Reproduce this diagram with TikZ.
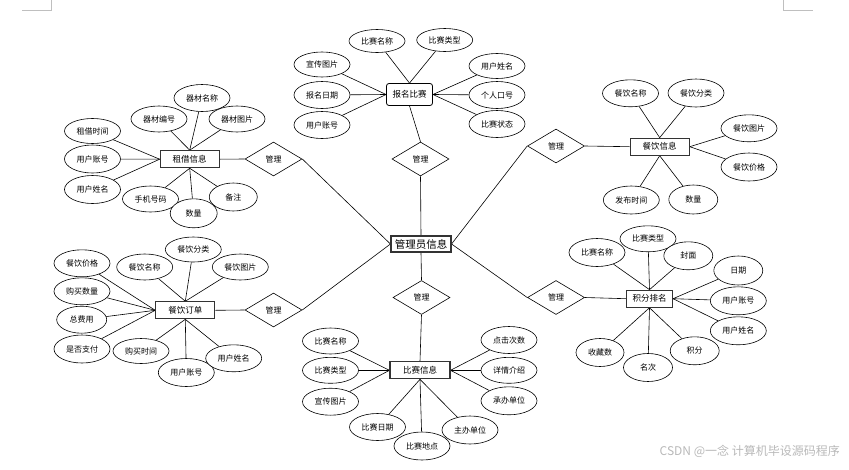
\documentclass[tikz,border=0pt]{standalone}
\usepackage{fontspec}
\setmainfont{Noto Sans CJK SC}
\usetikzlibrary{shapes.geometric,backgrounds}
\begin{document}
\begin{tikzpicture}[x=1pt,y=-1pt,
  attr/.style={ellipse,draw,fill=white,line width=0.6pt,minimum width=56pt,minimum height=27pt,inner sep=0pt,font=\fontsize{8}{9}\selectfont},
  ent/.style={rectangle,draw=black!80,fill=white,line width=1.1pt,minimum width=59pt,minimum height=17pt,inner sep=0pt,font=\fontsize{8.5}{10}\selectfont},
  rel/.style={diamond,draw,fill=white,line width=0.6pt,minimum width=57pt,minimum height=34pt,aspect=1.68,inner sep=0pt,font=\fontsize{8}{9}\selectfont},
  link/.style={line width=0.6pt},
  pagemark/.style={draw=black!25,line width=0.6pt}]
\useasboundingbox (0,0) rectangle (849,469);

% page corner marks
\draw[pagemark] (22,10) -- (51.7,10) -- (51.7,0);
\draw[pagemark] (812.7,10) -- (783.3,10) -- (783.3,0);

% entities
\node[ent,font=\fontsize{10.5}{12}\selectfont,minimum width=60pt,minimum height=16pt] (admin) at (421,244) {管理员信息};
\node[ent,rounded corners=2.5pt,line width=0.8pt,draw=black,minimum width=46pt,minimum height=22pt] (bm) at (409.5,94.5) {报名比赛};
\node[ent] (zj) at (189.7,159.2) {租借信息};
\node[ent] (dd) at (185.3,310.3) {餐饮订单};
\node[ent,minimum width=60pt] (bs) at (420,370.3) {比赛信息};
\node[ent] (cy) at (659.7,146.7) {餐饮信息};
\node[ent,minimum width=46pt] (jf) at (649.5,298.7) {积分排名};

% relations
\node[rel] (d1) at (420.5,159) {管理};
\node[rel] (d2) at (421.5,297.5) {管理};
\node[rel] (d3) at (273.5,159) {管理};
\node[rel] (d4) at (273.5,310) {管理};
\node[rel] (d5) at (556,146) {管理};
\node[rel] (d6) at (556,297.5) {管理};

% 报名比赛
\node[attr,minimum height=23pt] (a1) at (377,41) {比赛名称};
\node[attr,minimum height=23pt] (a2) at (444.7,40) {比赛类型};
\node[attr,minimum height=25pt] (a3) at (322,64.5) {宣传图片};
\node[attr] (a4) at (322,95) {报名日期};
\node[attr] (a5) at (322,125) {用户账号};
\node[attr,minimum height=25pt] (a6) at (497,66) {用户姓名};
\node[attr] (a7) at (497,95) {个人口号};
\node[attr] (a8) at (497,124) {比赛状态};

% 租借信息
\node[attr] (b1) at (202,98) {器材名称};
\node[attr,minimum height=26pt] (b2) at (159,119) {器材编号};
\node[attr,minimum height=26pt] (b3) at (237,119) {器材图片};
\node[attr,minimum height=25pt] (b4) at (92.5,131) {租借时间};
\node[attr,minimum height=28pt] (b5) at (92.5,159) {用户账号};
\node[attr,minimum height=28pt] (b6) at (92.5,189.5) {用户姓名};
\node[attr,minimum height=26pt] (b7) at (150.5,199) {手机号码};
\node[attr,minimum width=47pt,minimum height=29pt] (b8) at (193.7,213.3) {数量};
\node[attr,minimum width=48pt,minimum height=28pt] (b9) at (233.3,197) {备注};

% 餐饮订单
\node[attr,minimum height=25pt] (c1) at (193.3,249.5) {餐饮分类};
\node[attr,minimum height=26pt] (c2) at (144.7,267) {餐饮名称};
\node[attr,minimum height=26pt] (c3) at (240.3,267) {餐饮图片};
\node[attr] (c4) at (82,263.3) {餐饮价格};
\node[attr] (c5) at (82,291.3) {购买数量};
\node[attr,minimum width=50pt] (c6) at (81.7,319.7) {总费用};
\node[attr,minimum height=28pt] (c7) at (82,349) {是否支付};
\node[attr,minimum height=25pt] (c8) at (141,351) {购买时间};
\node[attr,minimum height=28pt] (c9) at (186.3,372.5) {用户账号};
\node[attr] (c10) at (233.7,358.3) {用户姓名};

% 比赛信息
\node[attr,minimum height=26pt] (e1) at (330.5,341) {比赛名称};
\node[attr,minimum height=26pt] (e2) at (330.5,370.3) {比赛类型};
\node[attr] (e3) at (330.5,401.7) {宣传图片};
\node[attr] (e4) at (509,340) {点击次数};
\node[attr,minimum height=26pt] (e5) at (509,370.3) {详情介绍};
\node[attr,minimum height=28pt] (e6) at (509,400.8) {承办单位};
\node[attr] (e7) at (377.5,427) {比赛日期};
\node[attr,minimum height=28pt] (e8) at (422,446) {比赛地点};
\node[attr,minimum height=28pt] (e9) at (470,430) {主办单位};

% 积分排名
\node[attr,minimum height=28pt] (f1) at (597,252.5) {比赛名称};
\node[attr,minimum height=26pt] (f2) at (648,238.8) {比赛类型};
\node[attr,minimum width=49pt,minimum height=28pt] (f3) at (688.3,255.8) {封面};
\node[attr,minimum width=49pt,minimum height=29pt] (f4) at (738.3,270.5) {日期};
\node[attr,minimum height=28pt] (f5) at (738.3,300.8) {用户账号};
\node[attr,minimum height=28pt] (f6) at (738.3,330.8) {用户姓名};
\node[attr,minimum width=48pt,minimum height=28pt] (f7) at (600,352.5) {收藏数};
\node[attr,minimum width=49pt,minimum height=28pt] (f8) at (648,367.5) {名次};
\node[attr,minimum width=49pt,minimum height=28pt] (f9) at (694.7,350.8) {积分};

% 餐饮信息
\node[attr] (g1) at (630.5,93.3) {餐饮名称};
\node[attr,minimum height=28pt] (g2) at (696,93) {餐饮分类};
\node[attr] (g3) at (749,128.3) {餐饮图片};
\node[attr,minimum height=28pt] (g4) at (749,167) {餐饮价格};
\node[attr,minimum height=28pt] (g5) at (631.3,200) {发布时间};
\node[attr,minimum width=49pt,minimum height=29pt] (g6) at (693.3,199.5) {数量};

% watermark
\node[text=black!28,font=\fontsize{12}{14}\selectfont,anchor=east,inner sep=0pt] (wm) at (840,451) {CSDN @一念 计算机毕设源码程序};

\begin{scope}[on background layer]
  \draw[link] (d3.east) -- (admin.west);
  \draw[link] (d4.east) -- (admin.west);
  \draw[link] (d1.south) -- (admin.north);
  \draw[link] (d2.north) -- (admin.south);
  \draw[link] (d5.west) -- (admin.east);
  \draw[link] (d6.west) -- (admin.east);
  \draw[link] (d1.north) -- (bm.south);
  \draw[link] (d3.west) -- (zj.east);
  \draw[link] (d4.west) -- (dd.east);
  \draw[link] (d2.south) -- (bs.north);
  \draw[link] (d5.east) -- (cy.west);
  \draw[link] (d6.east) -- (jf.west);
  \foreach \a/\b in {a1/bm.north,a2/bm.north,a3/bm.west,a4/bm.west,a5/bm.west,a6/bm.east,a7/bm.east,a8/bm.east,
    b1/zj.north,b2/zj.north,b3/zj.north,b4/zj.west,b5/zj.west,b6/zj.west,b7/zj.south,b8/zj.south,b9/zj.south,
    c1/dd.north,c2/dd.north,c3/dd.north,c4/dd.west,c5/dd.west,c6/dd.west,c7/dd.west,c8/dd.south,c9/dd.south,c10/dd.south,
    e1/bs.west,e2/bs.west,e3/bs.west,e4/bs.east,e5/bs.east,e6/bs.east,e7/bs.south,e8/bs.south,e9/bs.south,
    f1/jf.north,f2/jf.north,f3/jf.north,f4/jf.east,f5/jf.east,f6/jf.east,f7/jf.south,f8/jf.south,f9/jf.south,
    g1/cy.north,g2/cy.north,g3/cy.east,g4/cy.east,g5/cy.south,g6/cy.south}
    \draw[link] (\a) -- (\b);
\end{scope}
\end{tikzpicture}
\end{document}
